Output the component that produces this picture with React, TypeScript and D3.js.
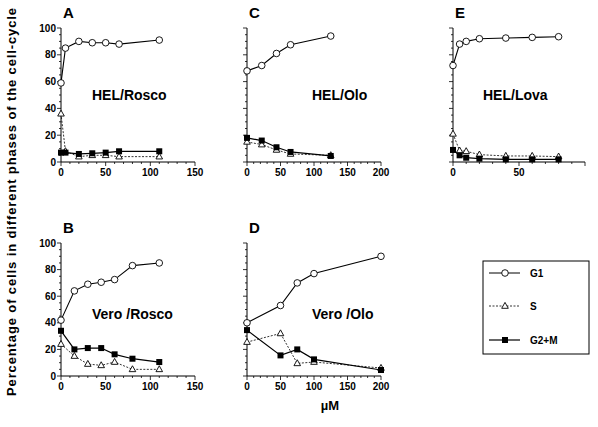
import React from "react";
import * as d3 from "d3";

// ---- Data ----
const aDose = [0, 5, 20, 35, 50, 65, 110];
const aG1 = [59, 85, 90, 89, 89, 88, 91];
const aS = [36, 8, 4, 5, 5, 4, 4];
const aG2M = [7, 7, 6, 6.5, 7, 8, 8];

const cDose = [0, 22, 44, 65, 125];
const cG1 = [68, 72, 81, 87.5, 94];
const cS = [15, 13, 9, 6, 5];
const cG2M = [18, 16, 11, 7.5, 4.5];

const eDose = [0, 5, 10, 20, 40, 60, 80];
const eG1 = [72, 88, 90, 92, 92.5, 93, 93.5];
const eS = [21, 8.5, 8, 5.5, 4.5, 4.5, 4];
const eG2M = [9, 5, 3.2, 2.5, 2, 2, 2];

const bDose = [0, 15, 30, 45, 60, 80, 110];
const bG1 = [42, 64, 69, 70.5, 72.5, 83, 85];
const bS = [24, 15, 9, 8, 10.5, 5, 5];
const bG2M = [34, 20, 21, 21, 16.3, 13, 10.5];

const dDose = [0, 50, 75, 100, 200];
const dG1 = [40, 53, 70, 77, 90];
const dS = [25.5, 32, 9.5, 10.5, 6];
const dG2M = [34.5, 15.5, 20, 12.5, 4.5];

const yTicks = [0, 20, 40, 60, 80, 100];
const xTicks150 = [0, 50, 100, 150];
const xTicks200 = [0, 50, 100, 150, 200];
const xTicksLova = [0, 50];

const legendLabels = ["G1", "S", "G2+M"];
const yTitle = "Percentage of cells in different phases of the cell-cycle";
const xTitle = "µM";

const FONT = "'Liberation Sans', Arial, Helvetica, sans-serif";

type PanelProps = {
  letter: string;
  label: string;
  labelX: number;
  labelY: number;
  x0: number;
  x1: number;
  xMax: number;
  xTicks: number[];
  yTop: number;
  yBot: number;
  showY: boolean;
  dose: number[];
  g1: number[];
  s: number[];
  g2m: number[];
};

const Circle = ({ x, y }: { x: number; y: number }) => (
  <circle cx={x} cy={y} r={3.3} fill="white" stroke="black" strokeWidth={0.9} />
);
const Tri = ({ x, y }: { x: number; y: number }) => (
  <path
    d={`M${x},${y - 3.6}L${x + 3.3},${y + 2.3}L${x - 3.3},${y + 2.3}Z`}
    fill="white"
    stroke="black"
    strokeWidth={0.9}
  />
);
const Sq = ({ x, y }: { x: number; y: number }) => (
  <rect x={x - 3} y={y - 3} width={6} height={6} fill="black" />
);

function Panel(p: PanelProps) {
  const xs = d3.scaleLinear().domain([0, p.xMax]).range([p.x0, p.x1]);
  const ys = d3.scaleLinear().domain([0, 100]).range([p.yBot, p.yTop]);
  const line = d3
    .line<[number, number]>()
    .x((d) => xs(d[0]))
    .y((d) => ys(d[1]));
  const pts = (vals: number[]) => p.dose.map((d, i) => [d, vals[i]] as [number, number]);
  const yMinor = d3.range(0, 101, 5);
  const xMinor = d3.range(0, p.xMax + 0.01, 10);
  return (
    <g>
      <text x={p.x0 + 2} y={p.yTop - 10} fontFamily={FONT} fontWeight="bold" fontSize={15}>
        {p.letter}
      </text>
      {/* axes */}
      <line x1={p.x0} x2={p.x0} y1={p.yBot} y2={p.yTop} stroke="black" strokeWidth={1} />
      <line x1={p.x0} x2={p.x1} y1={p.yBot} y2={p.yBot} stroke="black" strokeWidth={1} />
      {yMinor.map((v) => (
        <line key={"ym" + v} x1={p.x0} x2={p.x0 - (v % 20 === 0 ? 4 : 2)} y1={ys(v)} y2={ys(v)} stroke="black" strokeWidth={0.8} />
      ))}
      {xMinor.map((v) => (
        <line key={"xm" + v} x1={xs(v)} x2={xs(v)} y1={p.yBot} y2={p.yBot + (v % 50 === 0 ? 4 : 2)} stroke="black" strokeWidth={0.8} />
      ))}
      {p.showY &&
        yTicks.map((v) => (
          <text key={"yl" + v} x={p.x0 - 5} y={ys(v) + 3.5} textAnchor="end" fontFamily={FONT} fontWeight="bold" fontSize={10}>
            {v}
          </text>
        ))}
      {p.xTicks.map((v) => (
        <text key={"xl" + v} x={xs(v)} y={p.yBot + 14} textAnchor="middle" fontFamily={FONT} fontWeight="bold" fontSize={10}>
          {v}
        </text>
      ))}
      <text x={p.labelX} y={p.labelY} fontFamily={FONT} fontWeight="bold" fontSize={14}>
        {p.label}
      </text>
      {/* lines */}
      <path d={line(pts(p.s)) || ""} fill="none" stroke="black" strokeWidth={0.8} strokeDasharray="2,1.5" />
      <path d={line(pts(p.g2m)) || ""} fill="none" stroke="black" strokeWidth={1.2} />
      <path d={line(pts(p.g1)) || ""} fill="none" stroke="black" strokeWidth={1.1} />
      {pts(p.s).map((d, i) => (
        <Tri key={"s" + i} x={xs(d[0])} y={ys(d[1])} />
      ))}
      {pts(p.g2m).map((d, i) => (
        <Sq key={"g" + i} x={xs(d[0])} y={ys(d[1])} />
      ))}
      {pts(p.g1).map((d, i) => (
        <Circle key={"c" + i} x={xs(d[0])} y={ys(d[1])} />
      ))}
    </g>
  );
}

export default function App() {
  const TOP = { yTop: 28, yBot: 162 };
  const BOT = { yTop: 243, yBot: 376 };
  const lx0 = 489, lx1 = 520, lm = 505, lt = 530;
  const ly = [273, 306, 340];
  return (
    <svg width={598} height={427} style={{ position: "absolute", left: 0, top: 0, background: "white" }}>
      <rect x={0} y={0} width={598} height={427} fill="white" />
      <Panel letter="A" label="HEL/Rosco" labelX={92} labelY={100} x0={61} x1={195} xMax={150} xTicks={xTicks150} {...TOP} showY dose={aDose} g1={aG1} s={aS} g2m={aG2M} />
      <Panel letter="C" label="HEL/Olo" labelX={312} labelY={100} x0={247} x1={381} xMax={200} xTicks={xTicks200} {...TOP} showY={false} dose={cDose} g1={cG1} s={cS} g2m={cG2M} />
      <Panel letter="E" label="HEL/Lova" labelX={483} labelY={100} x0={453} x1={585} xMax={100} xTicks={xTicksLova} {...TOP} showY={false} dose={eDose} g1={eG1} s={eS} g2m={eG2M} />
      <Panel letter="B" label="Vero /Rosco" labelX={92} labelY={319} x0={61} x1={195} xMax={150} xTicks={xTicks150} {...BOT} showY dose={bDose} g1={bG1} s={bS} g2m={bG2M} />
      <Panel letter="D" label="Vero /Olo" labelX={312} labelY={319} x0={247} x1={381} xMax={200} xTicks={xTicks200} {...BOT} showY={false} dose={dDose} g1={dG1} s={dS} g2m={dG2M} />
      {/* y title */}
      <text
        transform="translate(16,202) rotate(-90)"
        textAnchor="middle"
        fontFamily={FONT}
        fontWeight="bold"
        fontSize={13}
        textLength={388}
        lengthAdjust="spacing"
      >
        {yTitle}
      </text>
      <text x={330} y={410} textAnchor="middle" fontFamily={FONT} fontWeight="bold" fontSize={13}>
        {xTitle}
      </text>
      {/* legend */}
      <rect x={483} y={261} width={106} height={93} fill="white" stroke="black" strokeWidth={1} />
      <line x1={lx0} x2={lx1} y1={ly[0]} y2={ly[0]} stroke="black" strokeWidth={1} />
      <Circle x={lm} y={ly[0]} />
      <line x1={lx0} x2={lx1} y1={ly[1]} y2={ly[1]} stroke="black" strokeWidth={0.8} strokeDasharray="2,1.5" />
      <Tri x={lm} y={ly[1]} />
      <line x1={lx0} x2={lx1} y1={ly[2]} y2={ly[2]} stroke="black" strokeWidth={1.2} />
      <Sq x={lm} y={ly[2]} />
      {legendLabels.map((t, i) => (
        <text key={t} x={lt} y={ly[i] + 4} fontFamily={FONT} fontWeight="bold" fontSize={10}>
          {t}
        </text>
      ))}
    </svg>
  );
}
